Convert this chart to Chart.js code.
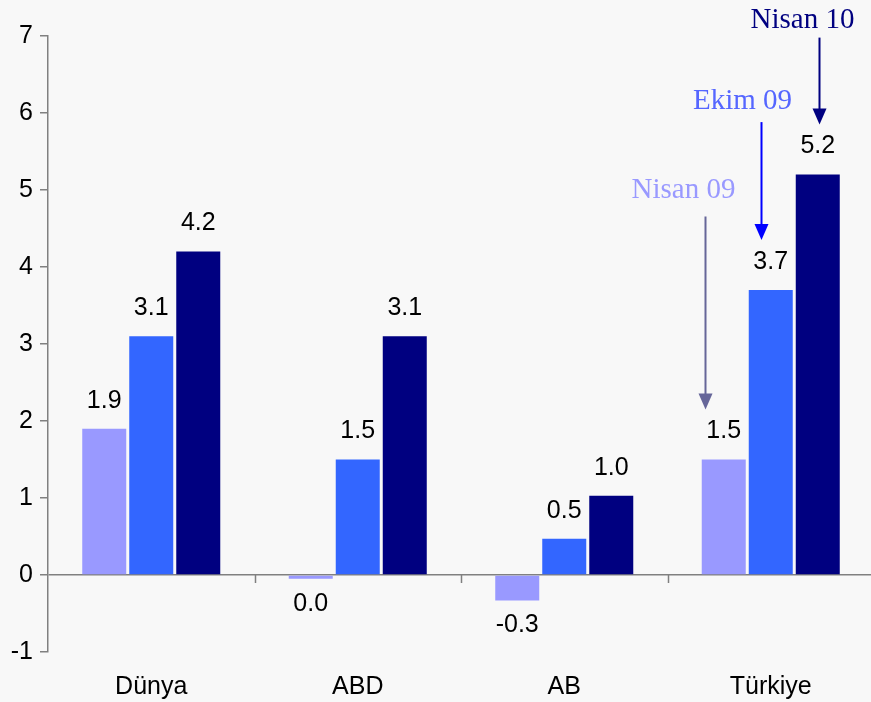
<!DOCTYPE html>
<html>
<head>
<meta charset="utf-8">
<script src="https://cdn.jsdelivr.net/npm/chart.js@4.4.0/dist/chart.umd.min.js"></script>
<style>
  html, body { margin: 0; padding: 0; background: #f8f8f8; overflow: hidden; }
  /* plot runs a little past the right edge, as in the original */
  #wrap { width: 874px; height: 702px; position: relative; }
</style>
</head>
<body>
<div id="wrap"><canvas id="chart"></canvas></div>
<script>
// data
const categories = ['Dünya', 'ABD', 'AB', 'Türkiye'];
const seriesNames = ['Nisan 09', 'Ekim 09', 'Nisan 10'];
const nisan09 = [1.9, -0.049, -0.33, 1.5];
const ekim09 = [3.1, 1.5, 0.47, 3.7];
const nisan10 = [4.2, 3.1, 1.03, 5.2];
const yMin = -1, yMax = 7;

const barColors = ['#9999ff', '#3366ff', '#000080'];
const noteTextColors = ['#9999ff', '#5566ff', '#000080'];
const noteArrowColors = ['#666699', '#0000ff', '#000080'];

const fmt = v => (Math.round(v * 10) / 10 || 0).toFixed(1);

// value labels above / below every bar
const valueLabels = {
  id: 'valueLabels',
  afterDatasetsDraw(chart) {
    const ctx = chart.ctx;
    ctx.save();
    ctx.font = '25px "Liberation Sans", Arial, sans-serif';
    ctx.fillStyle = '#000';
    ctx.textAlign = 'center';
    ctx.textBaseline = 'middle';
    chart.data.datasets.forEach((ds, i) => {
      chart.getDatasetMeta(i).data.forEach((bar, j) => {
        const v = ds.data[j];
        const y = v >= 0 ? bar.y - 28 : bar.y + 25;
        ctx.fillText(fmt(v), bar.x, y);
      });
    });
    ctx.restore();
  }
};

// small tick marks between categories on the zero line
const zeroTicks = {
  id: 'zeroTicks',
  afterDraw(chart) {
    const x = chart.scales.x, y = chart.scales.y;
    const y0 = y.getPixelForValue(0);
    const ctx = chart.ctx;
    ctx.save();
    ctx.strokeStyle = '#808080';
    ctx.lineWidth = 1.5;
    for (let i = 1; i < categories.length; i++) {
      const px = Math.round((x.getPixelForValue(i - 1) + x.getPixelForValue(i)) / 2) + 0.5;
      ctx.beginPath();
      ctx.moveTo(px, y0);
      ctx.lineTo(px, y0 + 8);
      ctx.stroke();
    }
    ctx.restore();
  }
};

// series names with arrows over the Türkiye bars
const notes = {
  id: 'notes',
  afterDatasetsDraw(chart) {
    const ctx = chart.ctx;
    const last = categories.length - 1;
    const dx = [-18.5, -9.5, 1];          // arrow offset from bar centre
    const len = [193, 118, 87];           // arrow length
    const textDx = [-22, -19, -17];       // text centre offset from arrow
    const textGap = [19, 13, 10];         // baseline above arrow start
    ctx.save();
    chart.data.datasets.forEach((ds, i) => {
      const bar = chart.getDatasetMeta(i).data[last];
      const ax = Math.round(bar.x + dx[i]) + 0.5;
      const tip = bar.y - 50;
      const start = tip - len[i];
      ctx.strokeStyle = noteArrowColors[i];
      ctx.fillStyle = noteArrowColors[i];
      ctx.lineWidth = 2;
      ctx.beginPath();
      ctx.moveTo(ax, start);
      ctx.lineTo(ax, tip - 14);
      ctx.stroke();
      ctx.beginPath();
      ctx.moveTo(ax - 7, tip - 16);
      ctx.lineTo(ax + 7, tip - 16);
      ctx.lineTo(ax, tip);
      ctx.closePath();
      ctx.fill();
      ctx.font = '29px "Liberation Serif", "Times New Roman", serif';
      ctx.fillStyle = noteTextColors[i];
      ctx.textAlign = 'center';
      ctx.textBaseline = 'alphabetic';
      ctx.fillText(seriesNames[i], ax + textDx[i], start - textGap[i]);
    });
    ctx.restore();
  }
};

new Chart(document.getElementById('chart'), {
  type: 'bar',
  data: {
    labels: categories,
    datasets: [nisan09, ekim09, nisan10].map((d, i) => ({
      label: seriesNames[i],
      data: d,
      backgroundColor: barColors[i],
      borderWidth: 0,
      categoryPercentage: 0.683,
      barPercentage: 0.936
    }))
  },
  options: {
    responsive: true,
    maintainAspectRatio: false,
    animation: false,
    layout: { padding: { top: 36, left: 0, right: 0, bottom: 0 } },
    plugins: {
      legend: { display: false },
      tooltip: { enabled: false }
    },
    scales: {
      x: {
        afterFit(scale) { scale.height = 50; },
        grid: { display: false, drawTicks: false },
        border: { display: false },
        ticks: {
          color: '#000',
          padding: 20,
          font: { family: '"Liberation Sans", Arial, sans-serif', size: 25 }
        }
      },
      y: {
        min: yMin,
        max: yMax,
        afterFit(scale) { scale.width = 48; },
        grid: {
          color: c => (c.tick && c.tick.value === 0 ? '#808080' : 'rgba(0,0,0,0)'),
          tickColor: '#808080',
          lineWidth: 1.5,
          tickLength: 8
        },
        border: { color: '#808080', width: 1.5 },
        ticks: {
          stepSize: 1,
          color: '#000',
          padding: 7,
          font: { family: '"Liberation Sans", Arial, sans-serif', size: 25 }
        }
      }
    }
  },
  plugins: [valueLabels, zeroTicks, notes]
});
</script>
</body>
</html>
